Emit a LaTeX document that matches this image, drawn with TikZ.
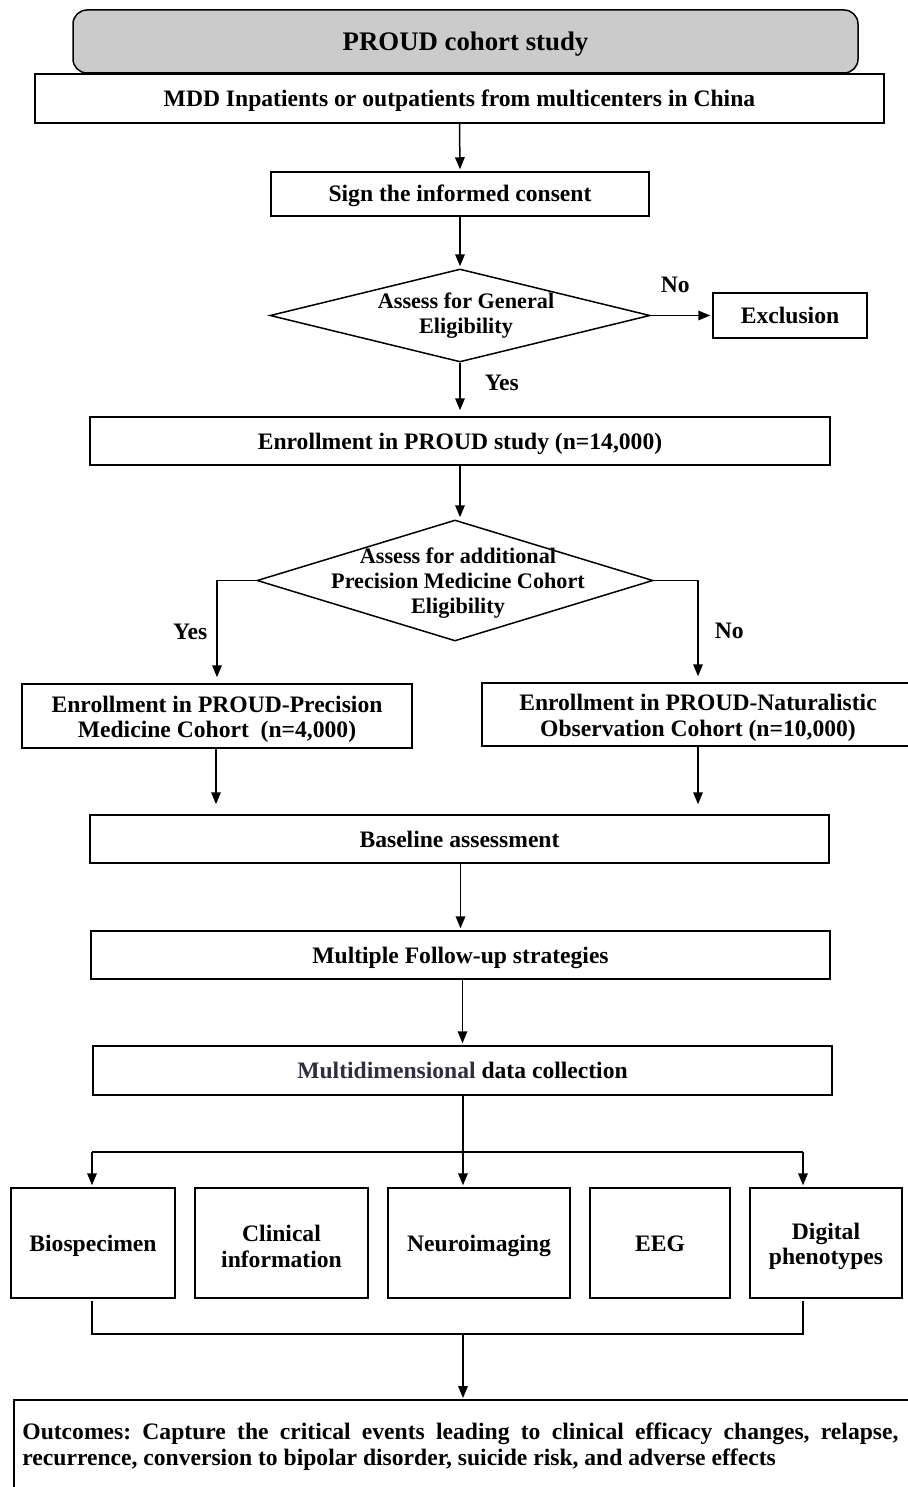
\documentclass[tikz,border=0pt]{standalone}
\usepackage{fontspec}
\setmainfont{Liberation Serif}
\usepackage{xcolor}
\usepackage{tikz}
\usetikzlibrary{positioning, shapes.geometric, arrows.meta}
\definecolor{titleGray}{HTML}{CBCBCB}
\definecolor{softInk}{HTML}{2E2F3C}
\newcommand{\topgap}{\rule{0pt}{11.5pt}}

\begin{document}
\frenchspacing
\begin{tikzpicture}[
  x=0.5pt, y=-0.5pt,
  every node/.style={
    font=\fontsize{11.8}{12.6}\selectfont\bfseries,
    align=center,
    inner sep=0pt
  },
  box/.style={
    rectangle,
    draw=black,
    line width=0.75pt
  },
  oneline/.style={
    box,
    text height=10pt,
    text depth=2pt
  },
  titlebox/.style={
    box,
    fill=titleGray,
    rounded corners=7pt,
    font=\fontsize{13.4}{14}\selectfont\bfseries,
    text height=11.2pt,
    text depth=2pt
  },
  decision/.style={
    diamond,
    draw=black,
    line width=0.75pt
  },
  asktext/.style={
    font=\fontsize{11.1}{12.5}\selectfont\bfseries
  },
  arrow/.style={
    -{Triangle[length=6pt, width=4.8pt]},
    line width=0.75pt,
    shorten >=1pt
  },
  link/.style={
    line width=0.75pt
  }
]
  \useasboundingbox (0,0) rectangle (907,1487);

  % Define nodes
  \node[titlebox, minimum width=392.5pt, minimum height=31.5pt] (title) at (465.5,41.5) {PROUD cohort study};
  \node[oneline, minimum width=424.5pt, minimum height=24.5pt] (mdd) at (459.5,98.5) {MDD Inpatients or outpatients from multicenters in China};
  \node[oneline, minimum width=189pt, minimum height=22pt] (sign) at (460,194) {Sign the informed consent};
  \node[decision, minimum width=190pt, minimum height=46.5pt] (genelig) at (460,315.5) {};
  \node[asktext] (geneligtxt) at (466,316) {Assess for General\\Eligibility};
  \node[oneline, minimum width=77pt, minimum height=22.5pt] (excl) at (790,315.5) {Exclusion};
  \node[oneline, minimum width=370pt, minimum height=24pt] (enroll) at (460,441) {Enrollment in PROUD study (n=14,000)};
  \node[decision, minimum width=198pt, minimum height=60.5pt] (pmelig) at (455,580.5) {};
  \node[asktext] (pmeligtxt) at (458,583) {Assess for additional\\Precision Medicine Cohort\\Eligibility};
  \node[box, minimum width=195pt, minimum height=32pt] (pmc) at (217,716) {\topgap Enrollment in PROUD-Precision\\Medicine Cohort~~(n=4,000)};
  \node[box, minimum width=216pt, minimum height=31.5pt] (noc) at (698,714.5) {\topgap Enrollment in PROUD-Naturalistic\\Observation Cohort (n=10,000)};
  \node[oneline, minimum width=369.5pt, minimum height=24pt] (base) at (459.5,839) {Baseline assessment};
  \node[oneline, minimum width=369.5pt, minimum height=24pt] (follow) at (460.5,955) {Multiple Follow-up strategies};
  \node[oneline, minimum width=369.5pt, minimum height=24.5pt] (multi) at (462.5,1070.5) {\textcolor{softInk}{Multidimensional} data collection};

  % data types
  \node[oneline, minimum width=82pt, minimum height=55pt] (bio) at (93,1243) {Biospecimen};
  \node[box, minimum width=86.5pt, minimum height=55pt] (clin) at (281.5,1243) {\topgap Clinical\\information};
  \node[oneline, minimum width=91pt, minimum height=55pt] (neuro) at (479,1243) {Neuroimaging};
  \node[oneline, minimum width=70pt, minimum height=55pt] (eeg) at (660,1243) {EEG};
  \node[box, minimum width=76pt, minimum height=55pt] (digi) at (826,1243) {\topgap Digital\\phenotypes};

  \node[anchor=north west, align=justify, text width=438pt, inner xsep=4pt, inner ysep=11pt,
        font=\fontsize{11.8}{13}\selectfont\bfseries] (outc) at (14,1400)
    {Outcomes: Capture the critical events leading to clinical efficacy changes, relapse,\linebreak
     recurrence, conversion to bipolar disorder, suicide risk, and adverse effects};
  \draw[link] ([yshift=-40pt]outc.south west) |- ([xshift=20pt]outc.north east);

  % Branch points
  \coordinate (split) at (463,1152);
  \coordinate (splitL) at (92,1152);
  \coordinate (splitR) at (803,1152);
  \coordinate (join) at (463,1334);
  \coordinate (joinL) at (92,1334);
  \coordinate (joinR) at (803,1334);

  % Connect nodes with arrows
  \draw[arrow] (mdd.south) -- (sign.north);
  \draw[arrow] (sign.south) -- (genelig.north);
  \draw[arrow] (genelig.east) -- node[above=11pt, pos=0.4] (nolbl) {No} (excl.west);
  \draw[arrow, shorten >=3pt] (genelig.south) -- node[right=12pt, pos=0.38] (yeslbl) {Yes} (enroll.north);
  \draw[arrow] (enroll.south) -- (enroll.south |- pmelig.north);
  \draw[arrow, shorten >=3pt] (pmelig.west) -| node[pos=0.75, left=4.5pt] (yeslbl2) {Yes} (pmc.north);
  \draw[arrow, shorten >=3pt] (pmelig.east) -| node[pos=0.75, right=8pt] (nolbl2) {No} (noc.north);
  \draw[arrow, shorten >=5pt] ([xshift=-0.5pt]pmc.south) -- ([xshift=-0.5pt]pmc.south |- base.north);
  \draw[arrow, shorten >=5pt] (noc.south) -- (noc.south |- base.north);
  \draw[arrow] (base.south -| follow.north) -- (follow.north);
  \draw[arrow] (follow.south -| multi.north) -- (multi.north);

  \draw[link] (multi.south -| split) -- (split);
  \draw[link] (splitL) -- (splitR);
  \draw[arrow] (splitL) -- (splitL |- bio.north);
  \draw[arrow] (split) -- (split |- neuro.north);
  \draw[arrow] (splitR) -- (splitR |- digi.north);

  \draw[link] ([yshift=-1pt]joinL |- bio.south) -- (joinL) -- (joinR) -- ([yshift=-1pt]joinR |- digi.south);
  \draw[arrow] (join) -- (join |- outc.north);
\end{tikzpicture}
\end{document}
